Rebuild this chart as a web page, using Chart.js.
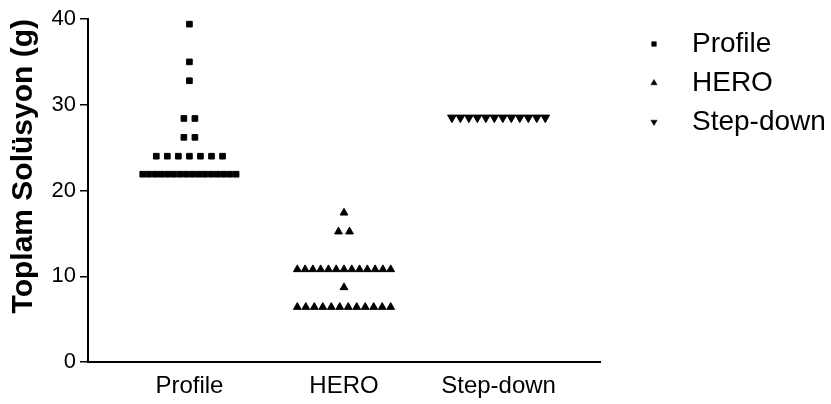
<!DOCTYPE html>
<html>
<head>
<meta charset="utf-8">
<script src="https://cdn.jsdelivr.net/npm/chart.js@4/dist/chart.umd.min.js"></script>
<style>
  html, body { margin: 0; padding: 0; background: #fff; }
  #wrap { width: 831px; height: 404px; position: relative; }
</style>
</head>
<body>
<div id="wrap"><canvas id="c" width="831" height="404"></canvas></div>
<script>
// ---- data ----
const categories = ['Profile', 'HERO', 'Step-down'];
const profileValues = [39.4, 35.0, 32.8, 28.4, 28.4, 26.2, 26.2,
  24.0, 24.0, 24.0, 24.0, 24.0, 24.0, 24.0,
  21.9, 21.9, 21.9, 21.9, 21.9, 21.9, 21.9, 21.9,
  21.9, 21.9, 21.9, 21.9, 21.9, 21.9, 21.9, 21.9];
const heroValues = [17.4, 15.2, 15.2,
  10.8, 10.8, 10.8, 10.8, 10.8, 10.8, 10.8, 10.8, 10.8, 10.8, 10.8, 10.8, 10.8,
  8.7,
  6.4, 6.4, 6.4, 6.4, 6.4, 6.4, 6.4, 6.4, 6.4, 6.4, 6.4, 6.4];
const stepDownValues = [28.5, 28.5, 28.5, 28.5, 28.5, 28.5, 28.5, 28.5, 28.5, 28.5, 28.5, 28.5];
const yTicks = [0, 10, 20, 30, 40];

// ---- column-scatter layout: points sharing a value are spread side by side ----
const PX_PER_UNIT = 154;
function columnScatter(values, catIndex) {
  const rows = new Map();
  values.forEach(v => { rows.set(v, (rows.get(v) || 0) + 1); });
  const pts = [];
  rows.forEach((n, v) => {
    const gapPx = n > 1 ? Math.min(11, 93 / (n - 1)) : 0;
    const gap = gapPx / PX_PER_UNIT;
    for (let i = 0; i < n; i++) {
      pts.push({ x: catIndex + 1 + (i - (n - 1) / 2) * gap, y: v });
    }
  });
  return pts;
}

const FONT = "'Liberation Sans', Arial, Helvetica, sans-serif";

const legendPlugin = {
  id: 'sideLegend',
  afterDraw(chart) {
    const ctx = chart.ctx;
    const ys = [44, 83, 122];
    ctx.save();
    chart.data.datasets.forEach((ds, i) => {
      ctx.fillStyle = '#000';
      ctx.strokeStyle = '#000';
      ctx.lineWidth = 0.5;
      Chart.helpers.drawPoint(ctx, {
        pointStyle: ds.pointStyle,
        rotation: ds.rotation || 0,
        radius: ds.pointStyle === 'rect' ? 3.3 : 3.6,
        borderWidth: 0.5
      }, 654, ys[i]);
      ctx.font = '28px ' + FONT;
      ctx.textBaseline = 'middle';
      ctx.textAlign = 'left';
      ctx.fillText(ds.label, 692, ys[i]);
    });
    ctx.restore();
  }
};

const cfg = {
  type: 'scatter',
  data: {
    datasets: [
      { label: categories[0], data: columnScatter(profileValues, 0), pointStyle: 'rect',
        pointRadius: 4, borderWidth: 1, backgroundColor: '#000', borderColor: '#000' },
      { label: categories[1], data: columnScatter(heroValues, 1), pointStyle: 'triangle',
        pointRadius: 4.5, borderWidth: 1, backgroundColor: '#000', borderColor: '#000' },
      { label: categories[2], data: columnScatter(stepDownValues, 2), pointStyle: 'triangle', rotation: 180,
        pointRotation: 180,
        pointRadius: 5, borderWidth: 1, backgroundColor: '#000', borderColor: '#000' }
    ]
  },
  options: {
    responsive: false,
    animation: false,
    devicePixelRatio: 1,
    layout: { padding: { top: 19, right: 231, left: 0, bottom: 0 } },
    plugins: { legend: { display: false }, tooltip: { enabled: false } },
    scales: {
      x: {
        type: 'linear',
        min: 0.344, max: 3.656,
        afterBuildTicks: s => { s.ticks = categories.map((c, i) => ({ value: i + 1 })); },
        afterFit: s => { s.height = 42; },
        ticks: {
          callback: v => categories[Math.round(v) - 1],
          font: { family: FONT, size: 24 },
          color: '#000',
          padding: 10,
          maxRotation: 0,
          autoSkip: false
        },
        grid: { display: true, drawOnChartArea: false, drawTicks: false, color: 'rgba(0,0,0,0)' },
        border: { display: true, color: '#000', width: 2 }
      },
      y: {
        min: 0, max: 40,
        afterBuildTicks: s => { s.ticks = yTicks.map(v => ({ value: v })); },
        afterFit: s => { s.width = 88; },
        ticks: {
          font: { family: FONT, size: 22 },
          color: '#000',
          padding: 4
        },
        grid: { display: true, drawOnChartArea: false, drawTicks: true, tickLength: 8, color: '#000', lineWidth: 1.5 },
        border: { display: true, color: '#000', width: 2 },
        title: {
          display: true,
          text: 'Toplam Solüsyon (g)',
          align: 'end',
          color: '#000',
          font: { family: FONT, size: 30, weight: 'bold' },
          padding: { top: 6, bottom: 0 }
        }
      }
    }
  },
  plugins: [legendPlugin]
};

new Chart(document.getElementById('c'), cfg);
</script>
</body>
</html>
